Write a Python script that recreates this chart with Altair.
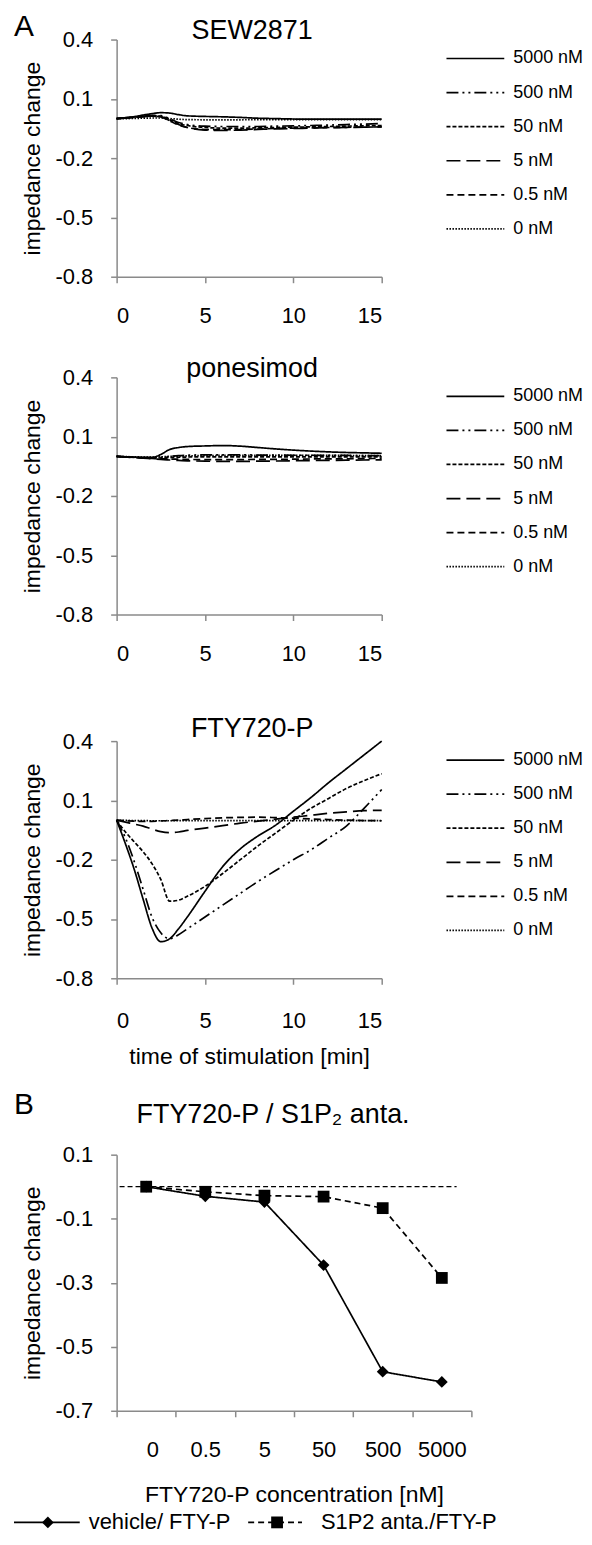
import json
import altair as alt
import pandas as pd

FONT = "Liberation Sans"

# ---------------- data ----------------
time_min = [0, 0.5, 1, 1.5, 2, 2.5, 3, 3.5, 4, 5, 6, 7, 8, 9, 10, 11, 12, 13, 14, 15]
conc_labels = ["5000 nM", "500 nM", "50 nM", "5 nM", "0.5 nM", "0 nM"]

# SEW2871
sew_5000 = [0, .005, .01, .018, .025, .03, .028, .02, .014, .011, .009, .006, .002, 0, -.002, -.003, -.003, -.003, -.003, -.003]
sew_500 = [0, .004, .008, .012, .016, .015, 0, -.02, -.03, -.038, -.04, -.04, -.04, -.038, -.037, -.035, -.033, -.03, -.028, -.025]
sew_50 = [0, .004, .008, .012, .015, .012, -.005, -.025, -.035, -.045, -.048, -.048, -.047, -.045, -.043, -.042, -.04, -.038, -.036, -.035]
sew_5 = [0, .003, .006, .01, .012, .01, -.01, -.03, -.045, -.058, -.06, -.058, -.055, -.052, -.05, -.048, -.046, -.045, -.043, -.042]
sew_05 = [0, .003, .006, .01, .012, .008, -.012, -.032, -.045, -.055, -.056, -.055, -.053, -.05, -.048, -.047, -.045, -.044, -.043, -.042]
sew_0 = [0, 0, .001, .002, .003, .003, 0, -.003, -.005, -.006, -.006, -.006, -.005, -.005, -.005, -.005, -.005, -.005, -.005, -.005]

# ponesimod
pon_5000 = [0, -.002, -.004, -.005, -.005, .01, .035, .045, .05, .053, .055, .052, .045, .038, .032, .027, .023, .02, .018, .016]
pon_500 = [0, -.002, -.004, -.006, -.007, -.005, 0, .004, .006, .008, .008, .008, .007, .007, .006, .006, .005, .005, .004, .004]
pon_50 = [0, -.002, -.004, -.006, -.008, -.008, -.006, -.004, -.003, -.002, -.002, -.002, -.002, -.002, -.002, -.002, -.002, -.002, -.002, -.002]
pon_5 = [0, -.003, -.006, -.009, -.012, -.015, -.018, -.02, -.022, -.024, -.025, -.025, -.024, -.023, -.022, -.021, -.02, -.019, -.018, -.017]
pon_05 = [0, -.003, -.005, -.008, -.01, -.012, -.013, -.014, -.015, -.016, -.016, -.016, -.015, -.015, -.014, -.013, -.012, -.012, -.011, -.01]
pon_0 = [0, -.001, -.002, -.003, -.003, -.002, 0, .002, .003, .004, .005, .005, .005, .005, .005, .005, .005, .005, .004, .004]

# FTY720-P
fty_5000 = [0, -.12, -.25, -.40, -.545, -.615, -.6, -.55, -.49, -.36, -.235, -.145, -.08, -.025, .045, .115, .19, .26, .33, .40]
fty_500 = [0, -.09, -.21, -.35, -.49, -.57, -.6, -.58, -.55, -.49, -.43, -.37, -.31, -.255, -.2, -.15, -.09, -.03, .06, .155]
fty_50 = [0, -.06, -.11, -.16, -.22, -.3, -.41, -.405, -.385, -.335, -.27, -.2, -.13, -.065, 0, .06, .11, .16, .2, .235]
fty_5 = [0, -.01, -.02, -.03, -.045, -.058, -.063, -.06, -.052, -.04, -.028, -.015, -.005, .005, .015, .025, .035, .042, .048, .05]
fty_05 = [0, -.003, -.005, -.006, -.006, -.004, -.002, 0, .003, .008, .012, .014, .015, .013, .01, .006, .003, 0, -.002, -.003]
fty_0 = [0, -.001, -.002, -.002, -.003, -.003, -.003, -.002, -.002, -.002, -.002, -.002, -.002, -.002, -.002, -.002, -.002, -.002, -.002, -.002]

# panel B
conc_cats = ["0", "0.5", "5", "50", "500", "5000"]
series_names = ["vehicle/ FTY-P", "S1P2 anta./FTY-P"]
vehicle_vals = [0.0, -0.03, -0.048, -0.245, -0.578, -0.61]
anta_vals = [0.0, -0.016, -0.028, -0.031, -0.067, -0.285]
baseline_i = [-0.45, 5.25]
baseline_v = [0.0, 0.0]

# ---------------- styles / layout ----------------
dash_patterns = [[1, 0], [12, 4, 2, 4, 2, 4], [4, 2], [14, 6], [7, 4], [1.5, 1.5]]
W_A, H_A = 266, 238
W_B, H_B = 356, 257
NEG = "datum.value < 0 ? '-' + format(-datum.value, '.1f') : format(datum.value, '.1f')"
PX = alt.Scale(domain=[-200, 600], range=[-200, 600], nice=False, zero=False)


def a_panel(name, series, title_offset, xtitle=None, letter=None, blank_size=None):
    rows = []
    for c, vals in zip(conc_labels, series):
        for t, v in zip(time_min, vals):
            rows.append({"t": t, "v": v, "conc": c})
    df = pd.DataFrame(rows)
    dash = alt.StrokeDash("conc:N", scale=alt.Scale(domain=conc_labels, range=dash_patterns), legend=None)
    if xtitle:
        xax = alt.Axis(values=[0, 5, 10, 15], labelPadding=26, titlePadding=15)
        xt = xtitle
    else:
        xax = alt.Axis(values=[0, 5, 10, 15], labelPadding=23, titleFontSize=blank_size, titlePadding=1)
        xt = " "
    lines = alt.Chart(df).mark_line(color="black", strokeWidth=1.7, interpolate="monotone").encode(
        x=alt.X("t:Q", scale=alt.Scale(domain=[0, 15], nice=False, zero=False), axis=xax, title=xt),
        y=alt.Y("v:Q", scale=alt.Scale(domain=[-0.8, 0.4], nice=False, zero=False),
                axis=alt.Axis(values=[-0.8, -0.5, -0.2, 0.1, 0.4], labelExpr=NEG),
                title="impedance change"),
        strokeDash=dash,
    )
    leg_df = pd.DataFrame({"conc": conc_labels, "lx0": [331] * 6, "lx1": [389] * 6})
    ly = alt.Y("conc:N", scale=alt.Scale(type="point", domain=conc_labels, range=[19, 190], padding=0), axis=None)
    leg_rule = alt.Chart(leg_df).mark_rule(color="black", strokeWidth=1.7).encode(
        x=alt.X("lx0:Q", scale=PX, axis=None), x2="lx1:Q", y=ly, strokeDash=dash)
    leg_text = alt.Chart(leg_df).mark_text(align="left", baseline="middle", dx=9, fontSize=18,
                                           font=FONT, color="black").encode(
        x=alt.X("lx1:Q", scale=PX, axis=None), y=ly, text="conc:N")
    parts = [leg_rule, leg_text]
    if letter:
        parts.append(alt.Chart(pd.DataFrame({"lab": [letter]})).mark_text(
            align="left", baseline="alphabetic", fontSize=30, font=FONT, color="black").encode(
            x=alt.value(-103), y=alt.value(-4), text="lab:N"))
    legend = alt.layer(*parts)
    return alt.layer(lines, legend).resolve_scale(x="independent", y="independent").properties(
        width=W_A, height=H_A,
        title=alt.TitleParams(name, anchor="middle", offset=title_offset, dx=3, baseline="alphabetic"))


p1 = a_panel("SEW2871", [sew_5000, sew_500, sew_50, sew_5, sew_05, sew_0], -54, letter="A", blank_size=7)
p2 = a_panel("ponesimod", [pon_5000, pon_500, pon_50, pon_5, pon_05, pon_0], -38, blank_size=29)
p3 = a_panel("FTY720-P", [fty_5000, fty_500, fty_50, fty_5, fty_05, fty_0], -34, xtitle="time of stimulation [min]")

# ---------------- panel B ----------------
rows = []
for s, vals in zip(series_names, [vehicle_vals, anta_vals]):
    for i, v in enumerate(vals):
        rows.append({"i": i, "v": v, "series": s})
df_b = pd.DataFrame(rows)
df_base = pd.DataFrame({"i": baseline_i, "v": baseline_v})

cat_js = json.dumps(conc_cats)
bx = alt.X("i:Q", scale=alt.Scale(domain=[-0.5, 5.5], nice=False, zero=False),
           axis=alt.Axis(values=[-0.5, 0.5, 1.5, 2.5, 3.5, 4.5, 5.5],
                         labelExpr=f"datum.value < 5 ? {cat_js}[datum.value + 0.5] : ''",
                         labelOffset=W_B / 12, labelOverlap=False, labelPadding=23, titlePadding=23),
           title="FTY720-P concentration [nM]")
by = alt.Y("v:Q", scale=alt.Scale(domain=[-0.7, 0.1], nice=False, zero=False),
           axis=alt.Axis(values=[-0.7, -0.5, -0.3, -0.1, 0.1], labelExpr=NEG),
           title="impedance change")
bdash = alt.StrokeDash("series:N", scale=alt.Scale(domain=series_names, range=[[1, 0], [6, 4]]), legend=None)
bshape = alt.Shape("series:N", scale=alt.Scale(domain=series_names, range=["diamond", "square"]), legend=None)

base_line = alt.Chart(df_base).mark_line(color="black", strokeWidth=1.3, strokeDash=[5, 3]).encode(x=bx, y=by)
b_lines = alt.Chart(df_b).mark_line(color="black", strokeWidth=1.7).encode(x=bx, y=by, strokeDash=bdash)
b_pts = alt.Chart(df_b).mark_point(filled=True, color="black", opacity=1, size=140).encode(x=bx, y=by, shape=bshape)
b_data = alt.layer(base_line, b_lines, b_pts)

leg_b = pd.DataFrame({"series": series_names, "x0": [-103, 132], "x1": [-37, 186],
                      "xm": [-69, 161], "xt": [-28, 205]})
LY = 369
lb_rule = alt.Chart(leg_b).mark_rule(color="black", strokeWidth=1.7).encode(
    x=alt.X("x0:Q", scale=PX, axis=None), x2="x1:Q", y=alt.value(LY), strokeDash=bdash)
lb_pt = alt.Chart(leg_b).mark_point(filled=True, color="black", opacity=1, size=140).encode(
    x=alt.X("xm:Q", scale=PX, axis=None), y=alt.value(LY), shape=bshape)
lb_text = alt.Chart(leg_b).mark_text(align="left", baseline="middle", fontSize=22, font=FONT, color="black").encode(
    x=alt.X("xt:Q", scale=PX, axis=None), y=alt.value(LY), text="series:N")
lb_letter = alt.Chart(pd.DataFrame({"lab": ["B"]})).mark_text(
    align="left", baseline="alphabetic", fontSize=30, font=FONT, color="black").encode(
    x=alt.value(-103), y=alt.value(-41), text="lab:N")
b_leg = alt.layer(lb_rule, lb_pt, lb_text, lb_letter)

pB = alt.layer(b_data, b_leg).resolve_scale(x="independent", y="independent").properties(
    width=W_B, height=H_B,
    title=alt.TitleParams("FTY720-P / S1P\u2082 anta.", anchor="middle", offset=-60, dx=-21,
                          baseline="alphabetic"))

chart = alt.vconcat(p1, p2, p3, pB, spacing=19).resolve_scale(
    strokeDash="independent", shape="independent"
).properties(
    padding={"left": 4, "right": 0, "top": 0, "bottom": 0}
).configure(font=FONT).configure_axis(
    domainColor="#8a8a8a", tickColor="#8a8a8a", domainWidth=1.5, tickWidth=1.5, tickSize=6,
    labelFontSize=22, titleFontSize=23, titleFontWeight="normal", labelColor="black", titleColor="black",
    grid=False, labelFont=FONT, titleFont=FONT,
).configure_axisY(labelPadding=18, titlePadding=10).configure_axisX(labelPadding=20, titlePadding=14).configure_view(
    stroke="transparent").configure_title(font=FONT, fontSize=27, fontWeight="normal", color="black")

chart.save("out.html", embed_options={"renderer": "svg", "actions": False})
